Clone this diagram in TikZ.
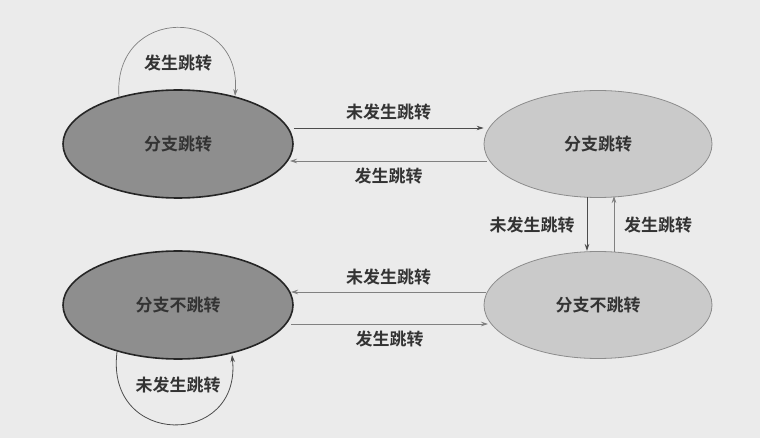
\documentclass[tikz,border=0pt]{standalone}
\usepackage{fontspec}
\newfontfamily\cjk{Noto Sans CJK SC}[BoldFont={* Bold}]
\usetikzlibrary{arrows.meta,shapes.geometric}
\definecolor{bgcol}{HTML}{EBEBEB}
\definecolor{darkfill}{HTML}{8E8E8E}
\definecolor{lightfill}{HTML}{CACACA}
\definecolor{txtcol}{HTML}{333333}
\tikzset{
  cjkfont/.style={font=\cjk\bfseries\fontsize{17}{20}\selectfont, text=txtcol},
  darkstate/.style={ellipse, draw=black!85, line width=1.6pt, fill=darkfill,
    minimum width=230pt, minimum height=108pt, inner sep=0pt, cjkfont},
  lightstate/.style={ellipse, draw=black!45, line width=0.8pt, fill=lightfill,
    minimum width=228pt, minimum height=107pt, inner sep=0pt, cjkfont},
  lbl/.style={cjkfont, inner sep=1pt},
  trans/.style={draw=black!70, line width=0.8pt, -{Stealth[length=7pt,width=4.5pt]}},
  transl/.style={draw=black!50, line width=0.7pt, -{Stealth[length=7pt,width=4.5pt]}},
}
\begin{document}
\begin{tikzpicture}[x=1pt,y=-1pt]
  \fill[bgcol] (0,0) rectangle (760,438);
  \useasboundingbox (0,0) rectangle (760,438);

  % states
  \node[darkstate]  (tk)  at (178,144) {分支跳转};
  \node[lightstate] (wtk) at (598,144) {分支跳转};
  \node[lightstate] (wnt) at (598,305) {分支不跳转};
  \node[darkstate]  (snt) at (178,305) {分支不跳转};

  % self loops
  \coordinate (l1a) at (119,97);
  \coordinate (l1b) at (235,96);
  \draw[transl] (l1a) .. controls (112,5) and (242,5) .. (l1b);
  \node[lbl] (l1) at (178,63) {发生跳转};

  \coordinate (l2a) at (117,352);
  \coordinate (l2b) at (232,355);
  \draw[trans] (l2a) .. controls (105,448) and (242,448) .. (l2b);
  \node[lbl] (l2) at (178,385) {未发生跳转};

  % transitions between the upper states
  \draw[trans]  (tk.east |- 0,128)  -- (wtk.west |- 0,128)
    node[lbl, midway, above=6pt] {未发生跳转};
  \draw[transl] (598-111,161) -- (178+112,161)
    node[lbl, midway, below=6pt] {发生跳转};

  % vertical transitions on the right
  \draw[trans]  (587,197) -- (587,251);
  \node[lbl] (v1) at (532,225) {未发生跳转};
  \draw[transl] (614,252) -- (614,196);
  \node[lbl] (v2) at (658,225) {发生跳转};

  % transitions between the lower states
  \draw[transl] (598-112,292) -- (178+113,292)
    node[lbl, midway, above=6pt] {未发生跳转};
  \draw[transl] (178+113,324) -- (598-110,324)
    node[lbl, midway, below=6pt] {发生跳转};
\end{tikzpicture}
\end{document}
